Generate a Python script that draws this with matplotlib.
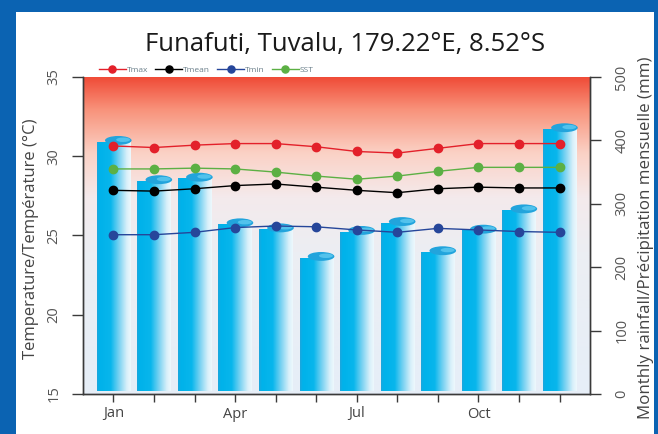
import numpy as np
import matplotlib
matplotlib.use("Agg")
import matplotlib.pyplot as plt
from matplotlib.patches import Ellipse, Rectangle
from matplotlib.colors import LinearSegmentedColormap
from matplotlib.transforms import blended_transform_factory

plt.rcParams['font.family'] = ['Open Sans', 'DejaVu Sans']

months = np.arange(1, 13)
tick_labels = ["Jan", "", "", "Apr", "", "", "Jul", "", "", "Oct", "", ""]
temp_ticks = [15, 20, 25, 30, 35]
rain_ticks = [0, 100, 200, 300, 400, 500]
rain = [398, 336, 340, 268, 260, 215, 256, 270, 224, 258, 290, 418]
tmax = [30.65, 30.55, 30.7, 30.8, 30.8, 30.6, 30.3, 30.2, 30.5, 30.8, 30.8, 30.8]
tmean = [27.85, 27.8, 27.95, 28.15, 28.25, 28.05, 27.85, 27.7, 27.95, 28.05, 28.0, 28.0]
tmin = [25.05, 25.05, 25.2, 25.5, 25.6, 25.55, 25.35, 25.2, 25.45, 25.35, 25.25, 25.2]
sst = [29.2, 29.2, 29.25, 29.2, 29.0, 28.75, 28.55, 28.75, 29.05, 29.3, 29.3, 29.3]

fig = plt.figure(figsize=(6.58, 4.34), dpi=100)
fig.patch.set_facecolor('#0b63b2')
fig.patches.append(Rectangle((16/658, 0), (654-16)/658, (434-12)/434,
                             transform=fig.transFigure, facecolor='white',
                             edgecolor='none', zorder=-5))

ax = fig.add_axes([83/658, 1-394/434, (590-83)/658, (394-77)/434])
ax.patch.set_visible(False)

# background gradient
bg_cmap = LinearSegmentedColormap.from_list('bg', [
    (0.0, '#e6eef8'), (0.45, '#eceef3'), (0.62, '#f4eaec'),
    (0.76, '#fbd2c6'), (0.9, '#f8927a'), (1.0, '#f04c38')])
grad = np.linspace(0, 1, 256).reshape(-1, 1)
ax.imshow(grad, extent=[0, 1, 0, 1], transform=ax.transAxes, origin='lower',
          aspect='auto', cmap=bg_cmap, zorder=0)

# cylinder bars
bar_cmap = LinearSegmentedColormap.from_list('bar', [
    (0.0, '#1ea6dc'), (0.08, '#00b2ea'), (0.4, '#08b6ec'),
    (0.65, '#78d2f2'), (0.88, '#d8f0fa'), (1.0, '#eef8fd')])
hgrad = np.linspace(0, 1, 128).reshape(1, -1)
width = 0.82
bars = ax.bar(months, rain, width=width, facecolor='none', edgecolor='none', zorder=2)
for b, m, r in zip(bars, months, rain):
    x0 = m - width/2
    im = ax.imshow(hgrad, extent=[x0, x0 + width, 4, r], origin='lower',
                   aspect='auto', cmap=bar_cmap, zorder=2)
    im.set_clip_path(b)
    ax.add_patch(Ellipse((m + 0.12, r + 2), width*0.8, 14, facecolor='#22a4dc',
                         edgecolor='none', zorder=3))
    ax.add_patch(Ellipse((m + 0.24, r + 3), width*0.42, 7, facecolor='#52c2ec',
                         edgecolor='none', zorder=3))

ax.set_xlim(0.25, 12.75)
ax.set_ylim(0, 500)
ax.set_yticks(rain_ticks)
ax.set_xticks(months)
ax.set_xticklabels(tick_labels)

axt = ax.twinx()
ax.yaxis.tick_right()
ax.yaxis.set_label_position('right')
axt.yaxis.tick_left()
axt.yaxis.set_label_position('left')
axt.set_ylim(15, 35)
axt.set_yticks(temp_ticks)
axt.set_xlim(0.25, 12.75)

series = [(tmax, '#e3202a', 'Tmax'), (tmean, '#000000', 'Tmean'),
          (tmin, '#26469a', 'Tmin'), (sst, '#5cb044', 'SST')]
for vals, col, lab in series:
    axt.plot(months, vals, color=col, lw=1.0, marker='o', ms=6, label=lab, zorder=5)

for a in (ax, axt):
    a.spines['top'].set_visible(False)
    for s in ('left', 'right', 'bottom'):
        a.spines[s].set_color('#3a3a3a')
        a.spines[s].set_linewidth(1.0)

axt.tick_params(axis='y', direction='out', length=8, width=1, color='#3a3a3a',
                labelleft=False, labelright=False)
ax.tick_params(axis='y', direction='out', length=8, width=1, color='#3a3a3a',
               labelleft=False, labelright=False)
ax.tick_params(axis='x', direction='out', length=6, width=1, color='#3a3a3a',
               labelsize=10.5, labelcolor='#444444', pad=3)

# rotated y tick labels
tr_t = blended_transform_factory(axt.transAxes, axt.transData)
for v in temp_ticks:
    axt.text(-0.057, v, str(v), transform=tr_t, rotation=90, ha='center',
             va='center', fontsize=10.5, color='#555555', clip_on=False)
tr_r = blended_transform_factory(ax.transAxes, ax.transData)
for v in rain_ticks:
    ax.text(1.063, v, str(v), transform=tr_r, rotation=90, ha='center',
            va='center', fontsize=10.5, color='#555555', clip_on=False)

leg = axt.legend(loc='lower left', bbox_to_anchor=(0.025, 0.998), ncol=4, fontsize=6,
                 frameon=False, handlelength=3.2, columnspacing=0.9,
                 handletextpad=0.1, borderaxespad=0, markerscale=0.85)
for t in leg.get_texts():
    t.set_color('#6a7f8a')

fig.text(0.524, 0.897, "Funafuti, Tuvalu, 179.22°E, 8.52°S", ha='center', va='center',
         fontsize=18.5, color='#1a1a1a')
fig.text(31/658, 0.45, "Temperature/Température (°C)", rotation=90, ha='center',
         va='center', fontsize=12, color='#444444')
fig.text(646/658, 0.452, "Monthly rainfall/Précipitation mensuelle (mm)", rotation=90,
         ha='center', va='center', fontsize=12.2, color='#444444')

fig.savefig('out.png', dpi=100, facecolor=fig.get_facecolor())
